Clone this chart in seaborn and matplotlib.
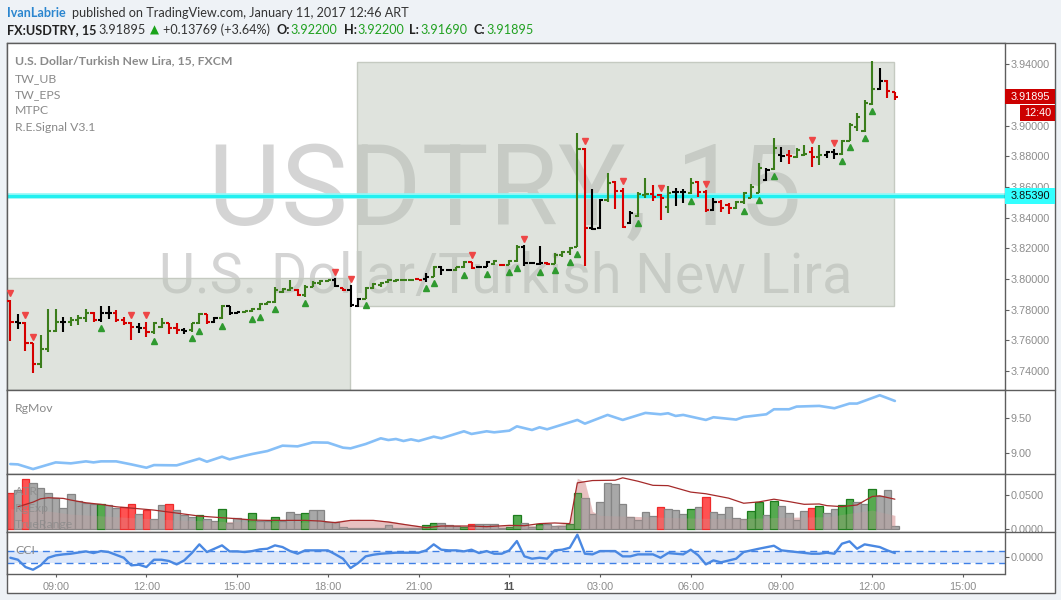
import numpy as np
import pandas as pd
import matplotlib
matplotlib.use("Agg")
import matplotlib.pyplot as plt
import matplotlib.transforms as mtrans
from matplotlib.patches import Rectangle
from matplotlib.lines import Line2D
import seaborn as sns

# ---------------- data (15-min bars, 07:30 Jan 10 -> 12:45 Jan 11) ----------------
bar_open = [3.7858, 3.7721, 3.7710, 3.7580, 3.7443, 3.7543, 3.7663, 3.7717, 3.7721, 3.7732,
            3.7743, 3.7776, 3.7732, 3.7776, 3.7776, 3.7732, 3.7715, 3.7684, 3.7682, 3.7656,
            3.7690, 3.7710, 3.7680, 3.7665, 3.7665, 3.7710, 3.7771, 3.7721, 3.7747, 3.7823,
            3.7776, 3.7782, 3.7791, 3.7804, 3.7836, 3.7850, 3.7915, 3.7925, 3.7930, 3.7895,
            3.7950, 3.7976, 3.7986, 3.7993, 3.7939, 3.7930, 3.7825, 3.7872, 3.7939, 3.7961,
            3.7982, 3.7990, 3.7994, 3.7995, 3.7997, 3.7997, 3.8015, 3.8080, 3.8058, 3.8058,
            3.8076, 3.8113, 3.8078, 3.8080, 3.8100, 3.8093, 3.8091, 3.8115, 3.8211, 3.8102,
            3.8100, 3.8106, 3.8098, 3.8156, 3.8178, 3.8211, 3.8848, 3.8335, 3.8330, 3.8515,
            3.8635, 3.8574, 3.8363, 3.8410, 3.8548, 3.8556, 3.8545, 3.8472, 3.8565, 3.8565,
            3.8559, 3.8635, 3.8569, 3.8450, 3.8504, 3.8480, 3.8460, 3.8500, 3.8530, 3.8563,
            3.8645, 3.8715, 3.8809, 3.8810, 3.8798, 3.8810, 3.8830, 3.8798, 3.8809, 3.8830,
            3.8813, 3.8900, 3.8993, 3.8965, 3.9139, 3.9237, 3.9293, 3.92200]
bar_high = [3.7863, 3.7771, 3.7721, 3.7580, 3.7634, 3.7802, 3.7802, 3.7750, 3.7754, 3.7767,
            3.7802, 3.7782, 3.7823, 3.7823, 3.7797, 3.7754, 3.7721, 3.7710, 3.7721, 3.7721,
            3.7747, 3.7715, 3.7710, 3.7682, 3.7715, 3.7780, 3.7771, 3.7754, 3.7830, 3.7823,
            3.7786, 3.7793, 3.7808, 3.7845, 3.7852, 3.7950, 3.7939, 3.7993, 3.7934, 3.7960,
            3.7986, 3.7993, 3.7993, 3.8004, 3.7939, 3.7960, 3.7873, 3.7945, 3.7971, 3.7982,
            3.7997, 3.7997, 3.7997, 3.7998, 3.7997, 3.8037, 3.8084, 3.8084, 3.8063, 3.8080,
            3.8119, 3.8113, 3.8084, 3.8117, 3.8124, 3.8093, 3.8124, 3.8219, 3.8219, 3.8106,
            3.8215, 3.8113, 3.8171, 3.8182, 3.8211, 3.8950, 3.8856, 3.8587, 3.8519, 3.8689,
            3.8639, 3.8595, 3.8443, 3.8565, 3.8656, 3.8613, 3.8552, 3.8606, 3.8591, 3.8585,
            3.8656, 3.8639, 3.8580, 3.8530, 3.8515, 3.8493, 3.8511, 3.8569, 3.8617, 3.8754,
            3.8726, 3.8917, 3.8863, 3.8841, 3.8852, 3.8874, 3.8863, 3.8874, 3.8835, 3.8845,
            3.8906, 3.9015, 3.9080, 3.9167, 3.9422, 3.9374, 3.9298, 3.92200]
bar_low = [3.7595, 3.7671, 3.7530, 3.7384, 3.7421, 3.7526, 3.7652, 3.7652, 3.7693, 3.7700,
           3.7717, 3.7717, 3.7721, 3.7737, 3.7721, 3.7700, 3.7602, 3.7645, 3.7623, 3.7641,
           3.7678, 3.7639, 3.7639, 3.7641, 3.7656, 3.7704, 3.7704, 3.7710, 3.7739, 3.7765,
           3.7769, 3.7780, 3.7782, 3.7797, 3.7830, 3.7845, 3.7910, 3.7923, 3.7889, 3.7884,
           3.7945, 3.7960, 3.7982, 3.7945, 3.7921, 3.7819, 3.7819, 3.7870, 3.7932, 3.7950,
           3.7971, 3.7982, 3.7993, 3.7993, 3.7993, 3.7982, 3.8015, 3.8026, 3.8054, 3.8054,
           3.8069, 3.8063, 3.8076, 3.8076, 3.8091, 3.8089, 3.8091, 3.8113, 3.8084, 3.8098,
           3.8091, 3.8091, 3.8098, 3.8141, 3.8156, 3.8206, 3.8087, 3.8319, 3.8326, 3.8504,
           3.8456, 3.8335, 3.8356, 3.8406, 3.8530, 3.8508, 3.8385, 3.8428, 3.8478, 3.8498,
           3.8552, 3.8537, 3.8439, 3.8443, 3.8439, 3.8421, 3.8454, 3.8487, 3.8526, 3.8559,
           3.8639, 3.8711, 3.8765, 3.8748, 3.8791, 3.8802, 3.8732, 3.8743, 3.8787, 3.8782,
           3.8809, 3.8900, 3.8965, 3.8961, 3.9135, 3.9232, 3.9178, 3.91690]
bar_close = [3.7721, 3.7710, 3.7580, 3.7443, 3.7543, 3.7663, 3.7717, 3.7721, 3.7732, 3.7743,
             3.7776, 3.7732, 3.7776, 3.7776, 3.7732, 3.7715, 3.7684, 3.7682, 3.7656, 3.7710,
             3.7715, 3.7678, 3.7667, 3.7663, 3.7710, 3.7771, 3.7721, 3.7747, 3.7823, 3.7776,
             3.7782, 3.7791, 3.7804, 3.7836, 3.7850, 3.7928, 3.7932, 3.7939, 3.7895, 3.7950,
             3.7976, 3.7986, 3.7993, 3.7954, 3.7928, 3.7830, 3.7867, 3.7939, 3.7967, 3.7976,
             3.7993, 3.7995, 3.7996, 3.7996, 3.7994, 3.8015, 3.8080, 3.8058, 3.8060, 3.8076,
             3.8113, 3.8069, 3.8080, 3.8113, 3.8117, 3.8090, 3.8117, 3.8211, 3.8102, 3.8102,
             3.8102, 3.8098, 3.8156, 3.8178, 3.8204, 3.8848, 3.8335, 3.8326, 3.8515, 3.8624,
             3.8574, 3.8341, 3.8428, 3.8552, 3.8556, 3.8537, 3.8530, 3.8559, 3.8565, 3.8565,
             3.8624, 3.8569, 3.8450, 3.8504, 3.8461, 3.8465, 3.8504, 3.8559, 3.8602, 3.8726,
             3.8711, 3.8852, 3.8804, 3.8805, 3.8841, 3.8815, 3.8798, 3.8809, 3.8830, 3.8813,
             3.8900, 3.9004, 3.9059, 3.9145, 3.9239, 3.9293, 3.9226, 3.91895]
bar_color = list("rkrrgggkgggrkkrrrkrgg"            # 0-20
                 "rrkggrkgkkgggggggrggggkrkk"       # 21-46
                 "gggggggrkgkkggrkkgrggkkkrggg"     # 47-74
                 "grkkgrrkggrrgkkgrrkrrggggk"       # 75-100
                 "gkrggrgkkgggggkrr")               # 101-117

sig_down = [0, 2, 3, 16, 18, 43, 45, 61, 68, 76, 81, 86, 92, 106, 109]
sig_up = [12, 19, 24, 25, 28, 32, 33, 35, 39, 47, 55, 56, 60, 63, 66, 67, 70, 72, 74, 75,
          83, 90, 97, 99, 101, 110, 111, 113, 114]

box1 = dict(i0=-6.0, i1=44.93, lo=3.70, hi=3.8006)
box2 = dict(i0=45.85, i1=116.9, lo=3.7824, hi=3.9415)
hline_level = 3.85390
last_price = 3.91895

rgmov_idx = [0, 1, 3, 6, 8, 10, 11, 12, 14, 16, 18, 19, 22, 25, 26, 28, 29, 31, 32, 34, 36, 38,
             40, 42, 44, 45, 47, 49, 50, 51, 52, 53, 54, 56, 57, 60, 61, 63, 64, 66, 67, 69,
             70, 71, 75, 76, 79, 81, 84, 86, 87, 88, 89, 92, 93, 96, 97, 100, 101, 103, 104,
             107, 109, 111, 112, 115, 117]
rgmov_val = [8.835, 8.830, 8.762, 8.859, 8.845, 8.874, 8.859, 8.874, 8.874, 8.830, 8.782, 8.820,
             8.816, 8.913, 8.869, 8.942, 8.903, 8.956, 8.981, 9.024, 9.102, 9.092, 9.150, 9.146,
             9.073, 9.063, 9.126, 9.209, 9.184, 9.199, 9.170, 9.194, 9.170, 9.233, 9.209, 9.311,
             9.272, 9.311, 9.296, 9.320, 9.383, 9.330, 9.369, 9.340, 9.476, 9.422, 9.549, 9.476,
             9.578, 9.558, 9.573, 9.534, 9.549, 9.476, 9.515, 9.481, 9.519, 9.558, 9.631, 9.631,
             9.670, 9.680, 9.646, 9.714, 9.714, 9.835, 9.752]

atr_hist = [0.0541, 0.0580, 0.0751, 0.0691, 0.0616, 0.0541, 0.0466, 0.0315, 0.0516, 0.0416,
            0.0391, 0.0376, 0.0376, 0.0351, 0.0315, 0.0331, 0.0366, 0.0225, 0.0280, 0.0140,
            0.0351, 0.0366, 0.0280, 0.0200, 0.0180, 0.0200, 0.0140, 0.0115, 0.0300, 0.0090,
            0.0165, 0.0140, 0.0230, 0.0115, 0.0115, 0.0180, 0.0115, 0.0255, 0.0215, 0.0230,
            0.0275, 0.0275, 0.0100, 0.0100, 0.0020, 0.0010, 0.0010, 0.0010, 0.0010, 0.0010,
            0.0050, 0.0010, 0.0010, 0.0010, 0.0010, 0.0050, 0.0090, 0.0090, 0.0055, 0.0040,
            0.0030, 0.0070, 0.0065, 0.0065, 0.0065, 0.0010, 0.0030, 0.0200, 0.0080, 0.0025,
            0.0076, 0.0066, 0.0035, 0.0035, 0.0076, 0.0536, 0.0460, 0.0220, 0.0398, 0.0690,
            0.0674, 0.0367, 0.0178, 0.0137, 0.0245, 0.0194, 0.0321, 0.0290, 0.0275, 0.0214,
            0.0290, 0.0321, 0.0475, 0.0245, 0.0214, 0.0321, 0.0168, 0.0153, 0.0265, 0.0398,
            0.0204, 0.0414, 0.0342, 0.0230, 0.0137, 0.0265, 0.0306, 0.0342, 0.0230, 0.0290,
            0.0357, 0.0444, 0.0398, 0.0372, 0.0597, 0.0495, 0.0587, 0.0035]
atr_color = list("rkrkkkkkkkkk"                      # 0-11
                 "gkkrrkrkkrkkkgkkgkkkgkkgkkkg"      # 12-39
                 "kkkkkkkkkkkkkkk"                   # 40-54
                 "ggkkkgrkkkkggkkgkkkgg"             # 55-75
                 "kkkkkkkkkk"                        # 76-85
                 "rkkkgkrkkkkkggkgkkkkrgkkggkkgkkk") # 86-117

rgexp_idx = [1, 3, 4, 5, 7, 8, 10, 12, 14, 17, 19, 21, 23, 25, 28, 30, 32, 34, 37, 39, 41, 43,
             45, 48, 50, 52, 55, 57, 59, 61, 63, 66, 68, 70, 72, 74, 75, 77, 80, 81, 83, 85,
             87, 90, 92, 95, 97, 99, 101, 103, 105, 107, 108, 110, 112, 114, 115, 117]
rgexp_val = [0.0330, 0.0400, 0.0450, 0.0466, 0.0456, 0.0431, 0.0390, 0.0366, 0.0330, 0.0300,
             0.0280, 0.0250, 0.0220, 0.0190, 0.0165, 0.0150, 0.0130, 0.0125, 0.0125, 0.0125,
             0.0115, 0.0090, 0.0125, 0.0125, 0.0100, 0.0065, 0.0015, 0.0040, 0.0040, 0.0040,
             0.0030, 0.0050, 0.0045, 0.0076, 0.0086, 0.0076, 0.0690, 0.0725, 0.0730, 0.0766,
             0.0715, 0.0653, 0.0648, 0.0551, 0.0526, 0.0460, 0.0383, 0.0403, 0.0444, 0.0408,
             0.0367, 0.0372, 0.0347, 0.0332, 0.0357, 0.0485, 0.0495, 0.0444]

tr_idx = [0, 4, 8, 14, 20, 28, 36, 42, 44, 46, 50, 53, 55, 60, 66, 72, 74, 75, 76, 77, 78,
          84, 90, 96, 102, 108, 114, 117]
tr_val = [0.030, 0.028, 0.022, 0.018, 0.014, 0.011, 0.010, 0.010, 0.013, 0.014, 0.012, 0.006,
          0.004, 0.004, 0.005, 0.005, 0.010, 0.076, 0.070, 0.026, 0.020, 0.018, 0.016, 0.015,
          0.017, 0.018, 0.028, 0.020]

cci_idx = [0, 1, 2, 3, 4, 5, 6, 7, 8, 10, 11, 12, 13, 15, 16, 17, 18, 19, 20, 21, 22, 23, 24,
           25, 26, 28, 29, 30, 31, 32, 33, 34, 35, 36, 37, 38, 39, 41, 42, 43, 44, 45, 46, 47,
           48, 49, 51, 53, 54, 55, 56, 57, 58, 59, 60, 61, 62, 63, 64, 65, 66, 67, 68, 69, 70,
           71, 72, 73, 74, 75, 76, 77, 78, 80, 81, 82, 83, 85, 86, 87, 89, 90, 91, 92, 93, 94,
           96, 97, 99, 101, 102, 104, 106, 107, 108, 109, 110, 111, 112, 113, 115, 116, 117]
cci_val = [-17, -50, -172, -217, -144, -17, 22, 39, 50, 89, 61, 94, 78, -17, -144, -133, -172,
           -50, -50, -72, -128, -61, 61, 206, 78, 189, 89, 89, 78, 94, 122, 133, 189, 161, 94,
           50, 106, 106, 106, 39, -33, -189, -106, 6, 33, 50, 67, 67, 67, 106, 206, 117, 106,
           106, 89, 117, 61, 94, 50, 50, 106, 261, 6, -33, -17, -33, 106, 117, 150, 367, 50,
           39, 94, 94, 6, 6, 39, 39, -17, 61, 39, 117, 22, -128, -61, -94, -33, 78, 133, 183,
           106, 78, 50, 50, 67, 50, 217, 256, 133, 206, 161, 106, 61]

price_ticks = [3.74, 3.76, 3.78, 3.80, 3.82, 3.84, 3.86, 3.88, 3.90, 3.92, 3.94]
time_tick_idx = [6, 18, 30, 42, 54, 66, 78, 90, 102, 114, 126]
time_tick_lbl = ["09:00", "12:00", "15:00", "18:00", "21:00", "11", "03:00", "06:00",
                 "09:00", "12:00", "15:00"]

# ---------------- styling ----------------
sns.set_theme(style="white")
plt.rcParams['font.family'] = ['Lato', 'DejaVu Sans']
AXF = 'Liberation Sans'
W, H = 1061, 600
BG = '#eef2f6'
FRAME = '#5d5d5d'
LBL = '#8c8c8c'

fig = plt.figure(figsize=(W / 100, H / 100), dpi=100, facecolor=BG)

def fbox(x0, y0, x1, y1):
    return [x0 / W, 1 - y1 / H, (x1 - x0) / W, (y1 - y0) / H]

fig.patches.append(Rectangle((6.5 / W, 1 - 592.7 / H), 1048 / W, (592.7 - 43) / H,
                             transform=fig.transFigure, facecolor='white',
                             edgecolor=FRAME, lw=1, zorder=-5))
for yy in [390, 474.3, 532]:
    fig.lines.append(Line2D([1004.5 / W, 1054.5 / W], [1 - yy / H, 1 - yy / H],
                            transform=fig.transFigure, color=FRAME, lw=1, zorder=5))

ax_p = fig.add_axes(fbox(6.5, 43, 1004.5, 390))
ax_r = fig.add_axes(fbox(6.5, 390, 1004.5, 474.3), sharex=ax_p)
ax_a = fig.add_axes(fbox(6.5, 474.3, 1004.5, 532), sharex=ax_p)
ax_c = fig.add_axes(fbox(6.5, 532, 1004.5, 574), sharex=ax_p)

for ax in (ax_p, ax_r, ax_a, ax_c):
    ax.set_facecolor('white')
    for s in ax.spines.values():
        s.set_color(FRAME)
        s.set_linewidth(1)
    ax.yaxis.tick_right()
    ax.tick_params(axis='y', right=True, left=False, length=2.6, width=0.8, color=FRAME,
                   pad=1.6, labelsize=7.8, labelcolor=LBL)
    ax.tick_params(axis='x', bottom=False, labelbottom=False)
    ax.grid(False)

n = len(bar_close)
x = np.arange(n)
ax_p.set_xlim(-0.508, 131.5)

# ---------------- price pane ----------------
ax_p.set_ylim(3.7276, 3.9539)
ax_p.set_yticks(price_ticks)
ax_p.set_yticklabels([f"{v:.5f}" for v in price_ticks], family=AXF)

ax_p.text(0.5, 0.4755, "USDTRY, 15", transform=ax_p.transAxes, ha='center', va='baseline',
          fontsize=81, family='Roboto', color='#999999', alpha=0.42, zorder=0.5)
ax_p.text(0.5, 0.2795, "U.S. Dollar/Turkish New Lira", transform=ax_p.transAxes, ha='center',
          va='baseline', fontsize=40, family='Roboto', color='#999999', alpha=0.42, zorder=0.5)

for b in (box1, box2):
    ax_p.add_patch(Rectangle((b['i0'], b['lo']), b['i1'] - b['i0'], b['hi'] - b['lo'],
                             facecolor=(0.722, 0.761, 0.706, 0.45), edgecolor='#c5cac1',
                             lw=1, zorder=1))

ax_p.axhline(hline_level, color='#8ff8f8', lw=4.0, zorder=2)
ax_p.axhline(hline_level, color='#22f0f0', lw=2.2, zorder=2.1)

cmap = {'g': '#3b7d1b', 'r': '#d50000', 'k': '#000000'}
cols = [cmap[c] for c in bar_color]
ax_p.vlines(x, bar_low, bar_high, colors=cols, lw=1.5, zorder=3)
ax_p.hlines(bar_open, x - 0.42, x, colors=cols, lw=1.5, zorder=3)
ax_p.hlines(bar_close, x, x + 0.42, colors=cols, lw=1.5, zorder=3)

off_up = ax_p.transData + mtrans.ScaledTranslation(0, -6.5 / 100, fig.dpi_scale_trans)
off_dn = ax_p.transData + mtrans.ScaledTranslation(0, 6.5 / 100, fig.dpi_scale_trans)
ax_p.plot(sig_up, [bar_low[i] for i in sig_up], ls='none', marker='^', ms=4.3,
          color='#2f9a2f', mec='#2f9a2f', transform=off_up, zorder=4)
ax_p.plot(sig_down, [bar_high[i] for i in sig_down], ls='none', marker='v', ms=4.3,
          color='#ee4646', mec='#ee4646', transform=off_dn, zorder=4)

def axis_box(ax, y, hpx, x0px, text, fc, tc):
    tr = mtrans.blended_transform_factory(ax.transAxes, ax.transData)
    h = hpx / 1533.0
    a0 = (x0px - 6.5) / 998.0
    a1 = (1054.5 - 6.5) / 998.0
    ax.add_patch(Rectangle((a0, y - h / 2), a1 - a0, h, transform=tr, facecolor=fc,
                           edgecolor='none', clip_on=False, zorder=10))
    ax.text((a0 + a1) / 2 + 0.0005, y, text, transform=tr, ha='center', va='center',
            color=tc, fontsize=7.8, family=AXF, clip_on=False, zorder=11)

axis_box(ax_p, last_price, 15, 1004.5, f"{last_price:.5f}", '#cc0000', 'white')
axis_box(ax_p, 3.9083, 15.5, 1020, "12:40", '#cc0000', 'white')
axis_box(ax_p, hline_level, 16, 1004.5, f"{hline_level:.5f}", '#33ffff', '#111111')

leg = [("U.S. Dollar/Turkish New Lira, 15, FXCM", 60.7, 'bold'), ("TW_UB", 78.3, 'normal'),
       ("TW_EPS", 94.3, 'normal'), ("MTPC", 110.3, 'normal'), ("R.E.Signal V3.1", 127.3, 'normal')]
for s, yy, wt in leg:
    fig.text(15 / W, 1 - yy / H, s, fontsize=8.8, color='#8a8a8a', weight=wt, va='center',
             zorder=6)

# ---------------- RgMov pane ----------------
rg_df = pd.DataFrame({'idx': rgmov_idx, 'val': rgmov_val})
sns.lineplot(data=rg_df, x='idx', y='val', ax=ax_r, color='#86bff7', lw=1.9, sort=False)
ax_r.set_ylim(8.686, 9.911)
ax_r.set_yticks([9.0, 9.5])
ax_r.set_yticklabels(["9.00", "9.50"], family=AXF)
ax_r.set_xlabel('')
ax_r.set_ylabel('')
fig.text(15 / W, 1 - 408.3 / H, "RgMov", fontsize=8.8, color='#8a8a8a', va='center')

# ---------------- ATR pane ----------------
fills = {'g': '#55aa4f', 'r': '#ff5252', 'k': '#a8a8a8'}
edges = {'g': '#1d7d1d', 'r': '#ee2a2a', 'k': '#858585'}
ax_a.fill_between(tr_idx, 0, tr_val, color='#f2c4c4', alpha=0.8, lw=0, zorder=1)
ax_a.bar(x, atr_hist, width=1.0, color=[fills[c] for c in atr_color],
         edgecolor=[edges[c] for c in atr_color], lw=0.9, zorder=2)
ax_a.fill_between(tr_idx, 0, tr_val, color='#c89a9a', alpha=0.25, lw=0, zorder=3)
ex_df = pd.DataFrame({'idx': rgexp_idx, 'val': rgexp_val})
sns.lineplot(data=ex_df, x='idx', y='val', ax=ax_a, color='#a52a2a', lw=0.9, sort=False,
             zorder=4)
ax_a.set_ylim(-0.005, 0.0819)
ax_a.set_yticks([0.0, 0.05])
ax_a.set_yticklabels(["0.0000", "0.0500"], family=AXF)
ax_a.set_xlabel('')
ax_a.set_ylabel('')
for s, yy in [("ATR", 491.7), ("RgExp", 508.3), ("TrueRange", 525.0)]:
    fig.text(15 / W, 1 - yy / H, s, fontsize=8.8, color='#8a8a8a', alpha=0.8, va='center',
             zorder=6)

# ---------------- CCI pane ----------------
ax_c.axhspan(-100, 100, color='#dde8fa', lw=0, zorder=1)
for lv in (-100, 100):
    ax_c.axhline(lv, color='#3f80e6', lw=1.0, dashes=(5, 3.5), zorder=2)
cci_df = pd.DataFrame({'idx': cci_idx, 'val': cci_val})
sns.lineplot(data=cci_df, x='idx', y='val', ax=ax_c, color='#4a88e2', lw=1.7, sort=False,
             zorder=3)
ax_c.set_ylim(-288, 412)
ax_c.set_yticks([0])
ax_c.set_yticklabels(["0.0000"], family=AXF)
ax_c.set_ylabel('')
ax_c.set_xlabel('')
fig.text(15 / W, 1 - 550 / H, "CCI", fontsize=8.8, color='#8a8a8a', va='center', zorder=6)

ax_c.set_xticks(time_tick_idx)
ax_c.set_xticklabels(time_tick_lbl)
ax_c.tick_params(axis='x', bottom=True, labelbottom=True, length=2.5, width=0.8,
                 color=FRAME, pad=3.2, labelsize=7.8, labelcolor=LBL)
for t in ax_c.get_xticklabels():
    t.set_family(AXF)
    if t.get_text() == "11":
        t.set_weight('bold')
        t.set_color('#555555')
ax_c.set_xlim(-0.508, 131.5)

# ---------------- header ----------------
HF = 9.1
fig.text(6.7 / W, 1 - 12.7 / H, "IvanLabrie", fontsize=HF, color='#2b86cf', weight='bold',
         va='center')
fig.text(71.5 / W, 1 - 12.7 / H, "published on TradingView.com, January 11, 2017 12:46 ART",
         fontsize=HF, color='#333333', va='center')
row2 = [(6.7, "FX:USDTRY, 15", '#222222', 'bold'), (98.5, "3.91895", '#333333', 'normal'),
        (163, "+0.13769 (+3.64%)", '#333333', 'normal'), (276.6, "O:", '#222222', 'bold'),
        (290, "3.92200", '#21a121', 'normal'), (344, "H:", '#222222', 'bold'),
        (357, "3.92200", '#21a121', 'normal'), (409, "L:", '#222222', 'bold'),
        (420, "3.91690", '#21a121', 'normal'), (474, "C:", '#222222', 'bold'),
        (486.6, "3.91895", '#21a121', 'normal')]
for xx, s, c, wt in row2:
    fig.text(xx / W, 1 - 30 / H, s, fontsize=HF, color=c, weight=wt, va='center')
fig.text(154 / W, 1 - 30 / H, "\u25B2", fontsize=8.5, color='#1aa31a', ha='center',
         va='center', family='DejaVu Sans')

fig.savefig("out.png", dpi=100, facecolor=BG)
